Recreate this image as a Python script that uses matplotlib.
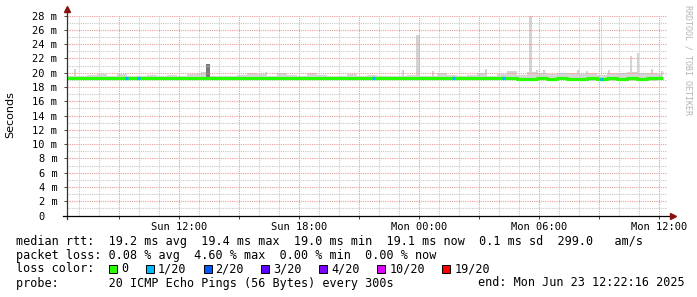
import matplotlib
matplotlib.use('Agg')
import matplotlib.pyplot as plt
from matplotlib.patches import Rectangle
import numpy as np

# time axis in hours from Sun 00:00, 30-minute bins starting 06:24
t_start = 6.4
bin_h = 0.5
t_end = 36.2

median = [19.2, 19.2, 19.25, 19.2, 19.3, 19.2, 19.25, 19.2, 19.2, 19.25, 19.2, 19.2, 19.2, 19.2,
          19.2, 19.2, 19.25, 19.2, 19.2, 19.2, 19.25, 19.2, 19.2, 19.25, 19.2, 19.2, 19.2, 19.2, 19.2, 19.2,
          19.2, 19.2, 19.2, 19.2, 19.2, 19.2, 19.2, 19.2, 19.2, 19.2, 19.2, 19.2, 19.2, 19.2, 19.2,
          19.17, 19.17, 19.2, 19.17, 19.2, 19.17, 19.17, 19.2, 19.17, 19.2, 19.17, 19.2, 19.17, 19.2, 19.2]
upper = [19.6, 19.5, 19.7, 19.8, 19.6, 19.8, 19.5, 19.6, 19.7, 19.5, 19.7, 19.6, 19.8, 20.0,
         19.6, 19.5, 19.6, 19.7, 19.9, 19.8, 19.6, 19.9, 19.7, 19.6, 19.9, 19.7, 19.6, 19.5, 19.8, 19.6,
         19.7, 19.6, 19.5, 19.6, 19.7, 19.5, 19.6, 20.0, 19.7, 19.6, 19.7, 19.9, 19.6, 19.8, 20.2,
         19.7, 20.1, 19.9, 19.8, 19.9, 20.0, 19.8, 19.9, 19.7, 20.0, 19.9, 20.1, 20.0, 19.9, 19.8]
lower = [19.0, 19.0, 19.05, 18.95, 19.0, 19.0, 19.05, 19.0, 18.95, 19.0, 19.0, 19.0, 19.05, 19.0,
         19.0, 19.0, 18.95, 19.0, 19.0, 19.05, 19.0, 19.0, 19.0, 18.95, 19.0, 19.0, 19.05, 19.0, 19.0, 19.0,
         19.0, 19.05, 19.0, 19.0, 18.95, 19.0, 19.0, 19.0, 19.05, 19.0, 19.0, 19.0, 18.95, 19.0, 19.0,
         18.95, 18.9, 18.95, 18.9, 18.95, 18.9, 18.95, 18.9, 18.95, 18.9, 18.95, 18.9, 18.95, 18.9, 18.95]

# narrow smoke spikes: start hour, width hours, top ms, shade
spike_t = [6.75, 13.1, 13.35, 23.85, 29.5, 33.1, 34.55, 34.9, 16.3, 17.2, 18.65, 23.15, 24.65, 27.3,
           29.85, 30.2, 31.9, 32.35, 33.45, 35.6, 36.1]
spike_w = [0.1, 0.25, 0.2, 0.2, 0.15, 0.06, 0.1, 0.1, 0.1, 0.1, 0.1, 0.1, 0.1, 0.1,
           0.1, 0.1, 0.1, 0.1, 0.1, 0.1, 0.1]
spike_top = [20.55, 20.1, 21.2, 25.2, 29.0, 29.0, 22.3, 22.7, 20.1, 20.0, 20.0, 20.3, 20.2, 20.5,
             20.4, 20.4, 20.3, 20.2, 20.3, 20.5, 20.2]
spike_c = ['#d4d4d4', '#d4d4d4', '#7a7a7a', '#d4d4d4', '#d4d4d4', '#e0e0e0', '#d4d4d4', '#d4d4d4',
           '#d4d4d4', '#d4d4d4', '#d4d4d4', '#d4d4d4', '#d4d4d4', '#d4d4d4', '#d4d4d4', '#d4d4d4',
           '#d4d4d4', '#d4d4d4', '#d4d4d4', '#d4d4d4', '#d4d4d4']

# short stretches with 1/20 loss
loss1_t = [9.3, 9.9, 21.65, 25.65, 28.15, 33.05]

tick_hours = [12, 18, 24, 30, 36]
tick_labels = ['Sun 12:00', 'Sun 18:00', 'Mon 00:00', 'Mon 06:00', 'Mon 12:00']

loss_labels = ['0', '1/20', '2/20', '3/20', '4/20', '10/20', '19/20']
loss_colors = ['#26ff00', '#00b8ff', '#0059ff', '#5e00ff', '#7e00ff', '#dd00ff', '#ff0000']

W, H = 697, 297
mono = 'DejaVu Sans Mono'
fig = plt.figure(figsize=(W / 100, H / 100), dpi=100)
fig.patch.set_facecolor('white')
ax = fig.add_axes([67 / W, (H - 215.5) / H, 600 / W, 200 / H])
ax.set_xlim(6.4, 36.4)
ax.set_ylim(0, 28)
for s in ax.spines.values():
    s.set_visible(False)

edges = t_start + bin_h * np.arange(len(median) + 1)
edges[-1] = t_end

# smoke
ax.fill_between(edges, lower + [lower[-1]], upper + [upper[-1]], step='post',
                color='#d6d6d6', lw=0, zorder=1)
ax.bar(spike_t, np.array(spike_top) - 19.2, bottom=19.2, width=spike_w, align='edge',
       color=spike_c, lw=0, zorder=1)

# grid
dots = (0, (1, 1))
for h in range(7, 37):
    c = '#e89c9c' if h % 3 == 0 else '#c8c8c8'
    ax.axvline(h, color=c, lw=0.8, ls=dots, zorder=2)
for v in range(1, 29):
    c = '#e89c9c' if v % 2 == 0 else '#c8c8c8'
    ax.axhline(v, color=c, lw=0.8, ls=dots, zorder=2)

# median line
ax.plot(edges, median + [median[-1]], drawstyle='steps-post', color=loss_colors[0],
        lw=2.3, solid_capstyle='butt', zorder=3)
for t in loss1_t:
    m = median[int((t - t_start) / bin_h)]
    ax.plot([t, t + 0.15], [m, m], color=loss_colors[1], lw=2.3, solid_capstyle='butt', zorder=4)

# axes with arrows
ax.plot([0, 0], [-0.015, 1.035], transform=ax.transAxes, color='#333333', lw=0.9, clip_on=False, zorder=5)
ax.plot([-0.007, 1.01], [0, 0], transform=ax.transAxes, color='#000000', lw=0.9, clip_on=False, zorder=5)
ax.plot([0], [1.035], marker='^', ms=4.5, color='#8b1010', transform=ax.transAxes, clip_on=False, zorder=6)
ax.plot([1.01], [0], marker='>', ms=4.5, color='#8b1010', transform=ax.transAxes, clip_on=False, zorder=6)

ax.set_yticks(range(0, 29, 2))
ax.set_yticklabels(['0  '] + ['%d m' % v for v in range(2, 29, 2)], fontfamily=mono, fontsize=7.5)
ax.set_xticks(tick_hours)
ax.set_xticklabels(tick_labels, fontfamily=mono, fontsize=7.5)
ax.set_xticks([9, 15, 21, 27, 33], minor=True)
ax.tick_params(axis='both', which='both', length=2, width=0.7, color='#444444', pad=3)
ax.tick_params(axis='y', pad=5)

fig.text(10 / W, 1 - 115 / H, 'Seconds', rotation=90, ha='center', va='center',
         fontfamily='DejaVu Sans', fontsize=8)
fig.text(688 / W, 1 - 60 / H, 'RRDTOOL / TOBI OETIKER', rotation=270, ha='center', va='center',
         fontfamily=mono, fontsize=6, color='#b4b4b4')


def line(x, y, s, **kw):
    fig.text(x / W, 1 - y / H, s, ha='left', va='center', fontfamily=mono, fontsize=8.5, **kw)


line(16, 241, 'median rtt:  19.2 ms avg  19.4 ms max  19.0 ms min  19.1 ms now  0.1 ms sd  299.0   am/s')
line(16, 256, 'packet loss: 0.08 % avg  4.60 % max  0.00 % min  0.00 % now')
line(16, 269, 'loss color:')
bx = 109
for lab, col in zip(loss_labels, loss_colors):
    fig.patches.append(Rectangle((bx / W, (H - 273) / H), 8 / W, 8 / H, transform=fig.transFigure,
                                 facecolor=col, edgecolor='black', lw=0.7))
    line(bx + 12, 269, lab)
    bx = bx + 12 + len(lab) * 7.11 + 17.5
line(16, 283, 'probe:       20 ICMP Echo Pings (56 Bytes) every 300s')
line(478, 283, 'end: Mon Jun 23 12:22:16 2025')

fig.savefig('out.png', dpi=100, facecolor='white')
